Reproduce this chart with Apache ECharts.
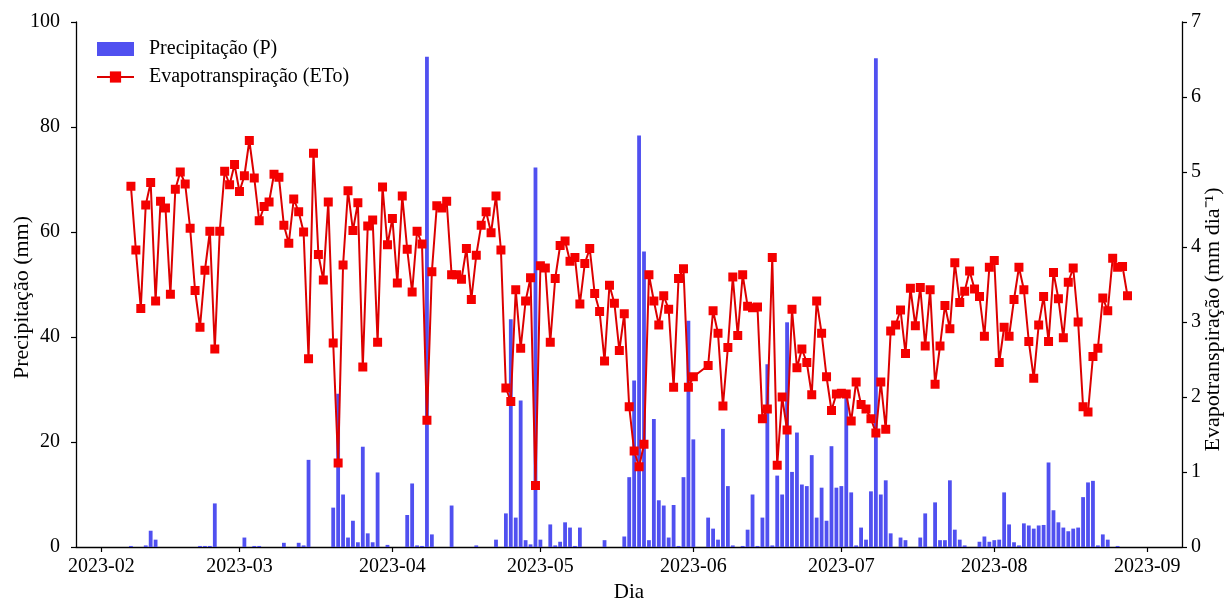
<!DOCTYPE html>
<html><head><meta charset="utf-8">
<script src="https://cdn.jsdelivr.net/npm/echarts@6/dist/echarts.min.js"></script>
<style>html,body{margin:0;padding:0;background:#fff}#c{width:1226px;height:598px}</style>
</head><body><div id="c"></div>
<script>
// first day of the series (daily data)
const startDate = '2023-02-07';

// Precipitation (mm) per day
const precipFeb = [0.2,0,0,0.3,3.1,1.4,0,0,0,0,0,0,0,0,0.2,0.2,0.2,8.3,0,0,0,0];
const precipMar = [0,1.8,0,0.2,0.2,0,0,0,0,0.8,0,0,0.8,0.3,16.6,0,0,0,0,7.5,29.2,10.0,1.8,5.0,0.9,19.1,2.6,0.9,14.2,0,0.4];
const precipApr = [0,0,0,6.1,12.1,0.3,0.2,93.4,2.4,0,0,0,7.9,0,0,0,0,0.3,0,0,0,1.4,0,6.4,43.4,5.6,27.9,1.3,0.5,72.3];
const precipMay = [1.4,0,4.3,0.3,1.0,4.7,3.7,0.2,3.7,0,0,0,0,1.3,0,0,0,2.0,13.3,31.7,78.4,56.3,1.3,24.4,8.9,7.9,1.8,8.0,0.2,13.3,43.1];
const precipJun = [20.5,null,null,5.6,3.5,1.4,22.5,11.6,0.3,0,0.2,3.3,10.0,0.2,5.6,34.8,0.3,13.6,10.0,42.8,14.3,21.8,11.9,11.6,17.5,5.6,11.3,5.0,19.2,11.3];
const precipJul = [11.6,29.2,10.4,0.3,3.7,1.4,10.6,93.1,10.0,12.7,2.6,0,1.8,1.3,0,0,1.8,6.4,0,8.5,1.3,1.3,12.7,3.3,1.4,0.3,0,0,1.0,2.0,1.0];
const precipAug = [1.3,1.4,10.4,4.3,0.9,0.3,4.5,4.1,3.5,4.1,4.2,16.1,7.0,4.7,3.7,3.0,3.5,3.7,9.5,12.3,12.6,0.3,2.4,1.4,0,0.2,0,0];

// Evapotranspiration ETo (mm dia-1) per day
const etoFeb = [4.81,3.96,3.18,4.56,4.86,3.28,4.61,4.52,3.37,4.77,5.00,4.84,4.25,3.42,2.93,3.69,4.21,2.64,4.21,5.01,4.83,5.10];
const etoMar = [4.74,4.95,5.42,4.92,4.35,4.54,4.60,4.97,4.93,4.29,4.05,4.64,4.47,4.20,2.51,5.25,3.90,3.56,4.60,2.72,1.12,3.76,4.75,4.22,4.59,2.40,4.28,4.36,2.73,4.80,4.03];
const etoApr = [4.38,3.52,4.68,3.97,3.40,4.21,4.04,1.69,3.67,4.55,4.52,4.61,3.63,3.63,3.57,3.98,3.30,3.89,4.29,4.47,4.19,4.68,3.96,2.12,1.94,3.43,2.65,3.28,3.59,0.82];
const etoMay = [3.75,3.72,2.73,3.58,4.02,4.08,3.81,3.86,3.24,3.78,3.98,3.38,3.14,2.48,3.49,3.25,2.62,3.11,1.87,1.28,1.07,1.37,3.63,3.28,2.96,3.35,3.17,2.13,3.58,3.71,2.13];
const etoJun = [2.27,null,null,2.42,3.15,2.85,1.88,2.66,3.60,2.82,3.63,3.21,3.19,3.20,1.71,1.84,3.86,1.09,2.00,1.56,3.17,2.39,2.64,2.46,2.03,3.28,2.85,2.27,1.82,2.04];
const etoJul = [2.05,2.04,1.68,2.20,1.90,1.84,1.71,1.52,2.20,1.57,2.88,2.96,3.16,2.58,3.45,2.95,3.46,2.68,3.43,2.17,2.68,3.22,2.91,3.79,3.26,3.41,3.68,3.44,3.34,2.81,3.73];
const etoAug = [3.82,2.46,2.93,2.81,3.30,3.73,3.43,2.74,2.25,2.96,3.34,2.74,3.66,3.31,2.79,3.53,3.72,3.00,1.87,1.80,2.54,2.65,3.32,3.15,3.85,3.73,3.74,3.35];

const precipitation = [].concat(precipFeb, precipMar, precipApr, precipMay, precipJun, precipJul, precipAug);
const evapotranspiration = [].concat(etoFeb, etoMar, etoApr, etoMay, etoJun, etoJul, etoAug);

function pad(n){return (n<10?'0':'')+n;}
const p = startDate.split('-').map(Number);
const dates = precipitation.map(function(_, i){
  const d = new Date(Date.UTC(p[0], p[1]-1, p[2] + i));
  return d.getUTCFullYear() + '-' + pad(d.getUTCMonth()+1) + '-' + pad(d.getUTCDate());
});

const FONT = 'Liberation Serif';
const chart = echarts.init(document.getElementById('c'), null, {renderer: 'canvas'});
const axisCommon = {
  axisLine: {show: true, lineStyle: {color: '#000', width: 1.3}},
  axisTick: {show: true, inside: false, length: 5, lineStyle: {color: '#000', width: 1.2}},
  splitLine: {show: false},
  nameMoveOverlap: false
};
chart.setOption({
  animation: false,
  backgroundColor: '#fff',
  textStyle: {fontFamily: FONT, color: '#000'},
  grid: {left: 76, right: 44, top: 22, bottom: 51, containLabel: false, outerBoundsMode: 'none'},
  legend: {
    orient: 'vertical', left: 91, top: 34, itemWidth: 37, itemHeight: 14, itemGap: 8,
    textStyle: {fontFamily: FONT, fontSize: 20, color: '#000', padding: [0,0,0,10]},
    data: [{name: 'Precipitação (P)', icon: 'rect'}, {name: 'Evapotranspiração (ETo)'}]
  },
  xAxis: Object.assign({}, axisCommon, {
    type: 'time',
    min: '2023-01-27 06:00', max: '2023-09-07 16:00',
    minInterval: 28 * 86400000, maxInterval: 31 * 86400000,
    name: 'Dia', nameLocation: 'middle', nameGap: 35,
    nameTextStyle: {fontFamily: FONT, fontSize: 21, color: '#000'},
    axisLabel: {formatter: '{yyyy}-{MM}', fontFamily: FONT, fontSize: 20, color: '#000', margin: 10}
  }),
  yAxis: [
    Object.assign({}, axisCommon, {
      type: 'value', position: 'left', min: 0, max: 100, interval: 20,
      name: 'Precipitação (mm)', nameLocation: 'middle', nameGap: 43, nameRotate: 90,
      nameTextStyle: {fontFamily: FONT, fontSize: 22, color: '#000', padding: [0, 26, 0, 0]},
      axisLabel: {fontFamily: FONT, fontSize: 20, color: '#000', margin: 16}
    }),
    Object.assign({}, axisCommon, {
      type: 'value', position: 'right', min: 0, max: 7, interval: 1,
      name: 'Evapotranspiração (mm dia⁻¹)', nameLocation: 'middle', nameGap: 20, nameRotate: 90,
      nameTextStyle: {fontFamily: FONT, fontSize: 22, color: '#000', padding: [0, 70, 0, 0]},
      axisLabel: {fontFamily: FONT, fontSize: 20, color: '#000', margin: 9}
    })
  ],
  series: [
    {
      name: 'Precipitação (P)', type: 'bar', yAxisIndex: 0, barWidth: 3.8, z: 2,
      itemStyle: {color: '#5050f0'},
      data: dates.map(function(d, i){ return [d, precipitation[i]]; })
    },
    {
      name: 'Evapotranspiração (ETo)', type: 'line', yAxisIndex: 1, z: 3,
      connectNulls: true, symbol: 'rect', symbolSize: 9,
      lineStyle: {color: '#dc0000', width: 2},
      itemStyle: {color: '#f40000'},
      data: dates.map(function(d, i){ return [d, evapotranspiration[i]]; })
    }
  ]
});
</script>
</body></html>
